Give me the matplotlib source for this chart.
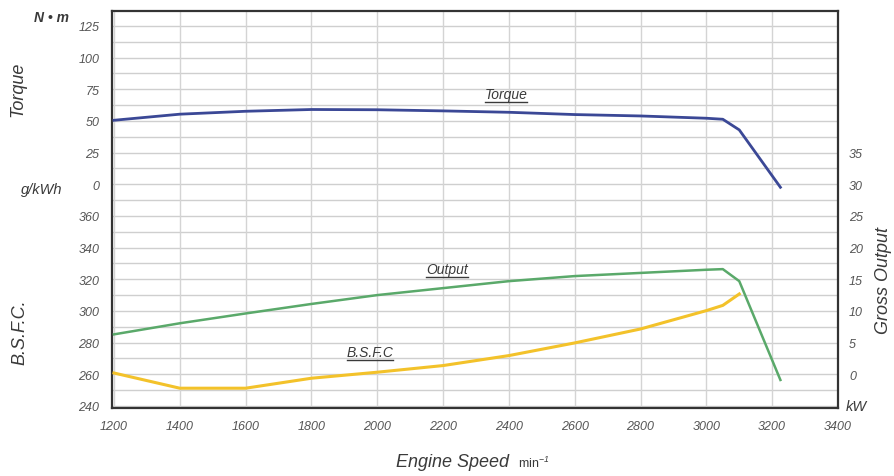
import matplotlib.pyplot as plt
from matplotlib.transforms import blended_transform_factory

plt.rcParams['font.family'] = ['Liberation Sans', 'DejaVu Sans']
plt.rcParams['mathtext.fontset'] = 'custom'
plt.rcParams['mathtext.rm'] = 'Liberation Sans:italic'
plt.rcParams['mathtext.it'] = 'Liberation Sans:italic'

# datos
rpm = [1200, 1400, 1600, 1800, 2000, 2200, 2400, 2600, 2800, 3000, 3050, 3100, 3225]
torque = [50.5, 55.3, 57.6, 59.0, 58.8, 57.9, 56.8, 55.0, 53.9, 52.1, 51.3, 42.9, -2.4]
output = [6.3, 8.05, 9.6, 11.1, 12.5, 13.6, 14.7, 15.5, 16.0, 16.5, 16.6, 14.7, -0.9]
bsfc_rpm = [1200, 1400, 1600, 1800, 2000, 2200, 2400, 2600, 2800, 3000, 3050, 3100]
bsfc = [260.8, 251.2, 251.2, 257.5, 261.3, 265.5, 271.8, 279.8, 288.6, 300.2, 303.5, 310.7]

x_ticks = [1200, 1400, 1600, 1800, 2000, 2200, 2400, 2600, 2800, 3000, 3200, 3400]
bsfc_ticks = [240, 260, 280, 300, 320, 340, 360]
torque_ticks = [0, 25, 50, 75, 100, 125]
output_ticks = [0, 5, 10, 15, 20, 25, 30, 35]

tick_col = '#555555'
txt_col = '#3a3a3a'

fig = plt.figure(figsize=(8.95, 4.77), dpi=100)
ax = fig.add_axes([112 / 895, 1 - 409 / 477, (838 - 112) / 895, (409 - 12) / 477])

# eje B.S.F.C. (base)
b_lo, b_hi = 238.7, 489.4
ax.set_xlim(1194, 3400)
ax.set_ylim(b_lo, b_hi)
ax.set_xticks(x_ticks)
ax.set_yticks(bsfc_ticks)
for v in range(240, 490, 10):
    ax.axhline(v, color='#cfcfcf', lw=1.0, zorder=0)
for v in x_ticks:
    ax.axvline(v, color='#d4d4d4', lw=1.0, zorder=0)

# eje del par
ax_t = ax.twinx()
ax_t.set_ylim((b_lo - 380) * 1.25, (b_hi - 380) * 1.25)
ax_t.set_yticks(torque_ticks)
ax_t.yaxis.tick_left()

# eje de potencia
ax_o = ax.twinx()
ax_o.set_ylim((b_lo - 260) / 4, (b_hi - 260) / 4)
ax_o.set_yticks(output_ticks)
ax_o.yaxis.tick_right()

for a in (ax, ax_t, ax_o):
    a.tick_params(length=0, labelsize=9, labelcolor=tick_col)
    for lab in a.get_xticklabels() + a.get_yticklabels():
        lab.set_fontstyle('italic')
    for s in a.spines.values():
        s.set_visible(False)
ax.tick_params(axis='y', pad=9)
ax_t.tick_params(axis='y', pad=9)
ax_o.tick_params(axis='y', pad=8)
ax.tick_params(axis='x', pad=9)
for s in ax.spines.values():
    s.set_visible(True)
    s.set_color('#333333')
    s.set_linewidth(1.6)

ax_t.plot(rpm, torque, color='#3b4896', lw=2.0, zorder=3)
ax_o.plot(rpm, output, color='#5aa96a', lw=1.8, zorder=3)
ax.plot(bsfc_rpm, bsfc, color='#f3c22a', lw=2.2, zorder=3)

# etiquetas de las curvas (subrayadas)
labels = [(506, 95, 'Torque'), (447, 270, 'Output'), (370, 353, 'B.S.F.C')]
texts = []
for px, py, s in labels:
    t = fig.text(px / 895, 1 - py / 477, s, ha='center', va='center',
                 fontsize=10, style='italic', color=txt_col)
    texts.append(t)

# etiquetas de los ejes
fig.text(18 / 895, 1 - 89 / 477, 'Torque', rotation=90, ha='center', va='center',
         fontsize=13, style='italic', color=txt_col)
fig.text(20 / 895, 1 - 332 / 477, 'B.S.F.C.', rotation=90, ha='center', va='center',
         fontsize=13, style='italic', color=txt_col)
fig.text(884 / 895, 1 - 281 / 477, 'Gross Output', rotation=90, ha='center', va='center',
         fontsize=13, style='italic', color=txt_col)
fig.text(52 / 895, 1 - 18 / 477, 'N • m', ha='center', va='center',
         fontsize=10, style='italic', weight='bold', color=txt_col)
fig.text(42 / 895, 1 - 190 / 477, 'g/kWh', ha='center', va='center',
         fontsize=10.5, style='italic', color=txt_col)
fig.text(856 / 895, 1 - 407 / 477, 'kW', ha='center', va='center',
         fontsize=10.5, style='italic', color=txt_col)
fig.text(453 / 895, 1 - 463 / 477, 'Engine Speed', ha='center', va='center',
         fontsize=13, style='italic', color=txt_col)
fig.text(518 / 895, 1 - 463 / 477, 'min$^{-1}$', ha='left', va='center',
         fontsize=9, color=txt_col)

fig.canvas.draw()
r = fig.canvas.get_renderer()
for t in texts:
    bb = t.get_window_extent(renderer=r)
    y0 = bb.y0 - 1
    fig.add_artist(plt.Line2D([bb.x0 / 895 / 1.0 * 1, bb.x1 / 895], [y0 / 477, y0 / 477],
                              transform=fig.transFigure, color=txt_col, lw=1.0))

fig.savefig('out.png', dpi=100)
